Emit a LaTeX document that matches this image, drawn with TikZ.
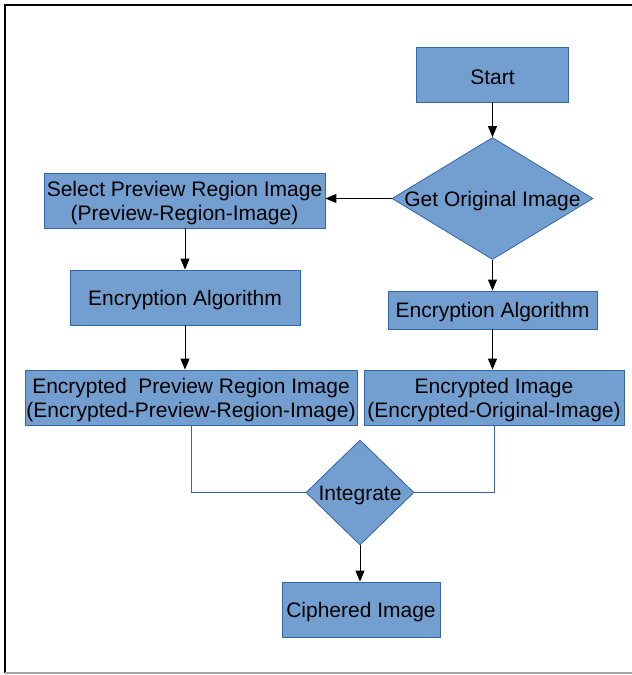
\documentclass[tikz,border=0pt]{standalone}
\usepackage{fontspec}
\setmainfont{Liberation Sans}
\usetikzlibrary{shapes.geometric,arrows.meta}
\definecolor{boxfill}{HTML}{729FCF}
\definecolor{boxline}{HTML}{3465A4}
\begin{document}
\begin{tikzpicture}[x=1pt,y=-1pt,
  txt/.style={font=\fontsize{21}{24}\selectfont,align=center,inner sep=0pt},
  t/.style={label={[txt,yshift=-2.5pt]center:{#1}}},
  box/.style={draw=boxline,fill=boxfill,line width=0.8pt,inner sep=0pt},
  dia/.style={shape=diamond,draw=boxline,fill=boxfill,line width=0.8pt,inner sep=0pt},
  arr/.style={black,line width=0.9pt,-{Triangle[length=11pt,width=9pt]}},
  link/.style={boxline,line width=0.9pt}]
\useasboundingbox (0,0) rectangle (632,675);
\draw[black,line width=1.5pt] (632,5) -- (5,5) -- (5,673);
\draw[gray!70,line width=1.2pt] (5,673) -- (632,673);

\node[box,minimum width=152pt,minimum height=55pt,t={Start}] (start) at (492.5,74.5) {};
\node[dia,minimum width=201pt,minimum height=122pt,t={Get Original Image}] (get) at (492.5,198.5) {};
\node[box,minimum width=281pt,minimum height=55pt,
      t={Select Preview Region Image\\(Preview-Region-Image)}] (sel) at (184.5,200.5) {};
\node[box,minimum width=230pt,minimum height=55pt,t={Encryption Algorithm}] (enc1) at (185,297.5) {};
\node[box,minimum width=209pt,minimum height=38pt,t={Encryption Algorithm}] (enc2) at (492.5,310) {};
\node[box,minimum width=332pt,minimum height=55pt,
      t={Encrypted~~Preview Region Image\\(Encrypted-Preview-Region-Image)}] (encp) at (191,397.5) {};
\node[box,minimum width=260pt,minimum height=55pt,
      t={Encrypted Image\\(Encrypted-Original-Image)}] (enci) at (494,397.5) {};
\node[dia,minimum width=108pt,minimum height=105pt,t={Integrate}] (integ) at (360,492.5) {};
\node[box,minimum width=158pt,minimum height=55pt,t={Ciphered Image}] (ciph) at (361,609.5) {};

\draw[arr] (start.south) -- (get.north);
\draw[arr] (get.west) -- (get.west -| sel.east);
\draw[arr] (sel.south -| enc1.north) -- (enc1.north);
\draw[arr] (enc1.south) -- (enc1.south |- encp.north);
\draw[arr] (get.south) -- (enc2.north);
\draw[arr] (enc2.south) -- (enc2.south |- enci.north);
\draw[link] (encp.south) |- (integ.west);
\draw[link] (enci.south) |- (integ.east);
\draw[arr] (integ.south) -- (integ.south |- ciph.north);
\end{tikzpicture}
\end{document}
